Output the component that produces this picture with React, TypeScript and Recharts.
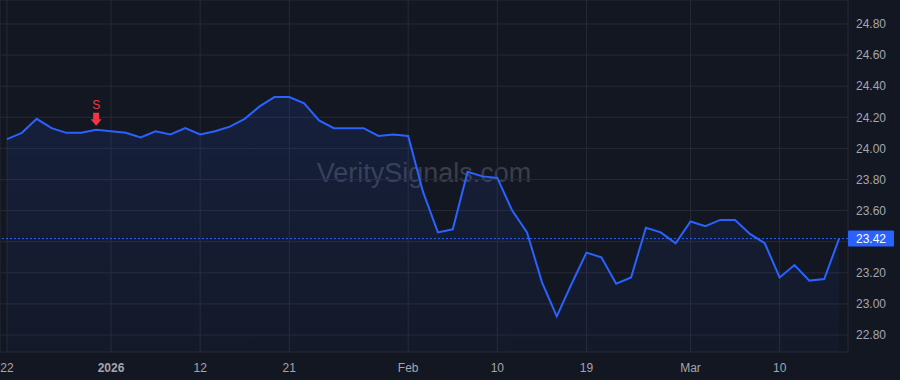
import React from 'react';
import { ComposedChart, Area, XAxis, YAxis, CartesianGrid, ReferenceLine, ReferenceDot } from 'recharts';

const dates = [
  '2025-12-22', '2025-12-23', '2025-12-24', '2025-12-26', '2025-12-29', '2025-12-30', '2025-12-31', '2026-01-02',
  '2026-01-05', '2026-01-06', '2026-01-07', '2026-01-08', '2026-01-09',
  '2026-01-12', '2026-01-13', '2026-01-14', '2026-01-15', '2026-01-16',
  '2026-01-20', '2026-01-21', '2026-01-22', '2026-01-23',
  '2026-01-26', '2026-01-27', '2026-01-28', '2026-01-29', '2026-01-30',
  '2026-02-02', '2026-02-03', '2026-02-04', '2026-02-05', '2026-02-06',
  '2026-02-09', '2026-02-10', '2026-02-11', '2026-02-12', '2026-02-13',
  '2026-02-17', '2026-02-18', '2026-02-19', '2026-02-20',
  '2026-02-23', '2026-02-24', '2026-02-25', '2026-02-26', '2026-02-27',
  '2026-03-02', '2026-03-03', '2026-03-04', '2026-03-05', '2026-03-06',
  '2026-03-09', '2026-03-10', '2026-03-11', '2026-03-12', '2026-03-13',
  '2026-03-16',
];

const prices = [
  24.06, 24.10, 24.19, 24.13, 24.10, 24.10, 24.12, 24.11,
  24.10, 24.07, 24.11, 24.09, 24.13,
  24.09, 24.11, 24.14, 24.19, 24.27,
  24.33, 24.33, 24.29, 24.18,
  24.13, 24.13, 24.13, 24.08, 24.09,
  24.08, 23.72, 23.46, 23.48, 23.85,
  23.82, 23.81, 23.60, 23.46, 23.14,
  22.92, 23.13, 23.33, 23.30,
  23.13, 23.17, 23.49, 23.46, 23.39,
  23.53, 23.50, 23.54, 23.54, 23.45,
  23.39, 23.17, 23.25, 23.15, 23.16,
  23.42,
];

const xTickIndices = [0, 7, 13, 19, 27, 33, 39, 46, 52];
const xTickLabels = ['22', '2026', '12', '21', 'Feb', '10', '19', 'Mar', '10'];
const yTicks = [22.8, 23.0, 23.2, 23.4, 23.6, 23.8, 24.0, 24.2, 24.4, 24.6, 24.8];
const yTicksShown = [22.8, 23.0, 23.2, 23.6, 23.8, 24.0, 24.2, 24.4, 24.6, 24.8];
const lastPrice = 23.42;
const signalIndex = 6;
const signalLabel = 'S';
const watermark = 'VeritySignals.com';

const yDomain: [number, number] = [22.691, 24.954];
const xDomain: [number, number] = [-0.47, 56.6];

const data = prices.map((p, i) => ({ i, date: dates[i], price: p }));

const FONT = '"Liberation Sans", Arial, Helvetica, sans-serif';
const LINE = '#2962ff';
const TEXT = '#a3a6af';

const XTick = (props: any) => {
  const { x, y, payload } = props;
  const idx = xTickIndices.indexOf(payload.value);
  const label = idx >= 0 ? xTickLabels[idx] : '';
  return (
    <text x={x} y={y} dy="0.71em" textAnchor="middle" fill={TEXT} fontSize={12} fontFamily={FONT}
      fontWeight={label === '2026' ? 'bold' : 'normal'}>
      {label}
    </text>
  );
};

const YTick = (props: any) => {
  const { x, y, payload } = props;
  if (!yTicksShown.some((t) => Math.abs(t - payload.value) < 1e-6)) return <g />;
  return (
    <text x={x} y={y} dy="0.355em" textAnchor="start" fill={TEXT} fontSize={12} fontFamily={FONT}>
      {payload.value.toFixed(2)}
    </text>
  );
};

const PriceLabel = (props: any) => {
  const vb = props.viewBox || {};
  const x = (vb.x || 0) + (vb.width || 0);
  const y = vb.y || 0;
  return (
    <g>
      <rect x={x} y={y - 8} width={46} height={16} rx={1} fill={LINE} />
      <text x={x + 23} y={y} dy="0.355em" textAnchor="middle" fill="#ffffff" fontSize={12} fontFamily={FONT}>
        {lastPrice.toFixed(2)}
      </text>
    </g>
  );
};

const SignalShape = (props: any) => {
  const { cx, cy } = props;
  const tip = cy - 4;
  return (
    <g>
      <text x={cx} y={tip - 17} textAnchor="middle" fill="#f23645" fontSize={12} fontFamily={FONT}>
        {signalLabel}
      </text>
      <rect x={cx - 3} y={tip - 13} width={6} height={7} fill="#f23645" />
      <polygon points={`${cx - 5.5},${tip - 6.5} ${cx + 5.5},${tip - 6.5} ${cx},${tip}`} fill="#f23645" />
    </g>
  );
};

export default function App() {
  return (
    <div style={{ position: 'absolute', left: 0, top: 0, width: 900, height: 380, background: '#131722', overflow: 'hidden' }}>
      <div style={{ position: 'absolute', left: 0, top: 158, width: 848, textAlign: 'center', fontFamily: FONT, fontSize: 27, color: '#3a3e4a', lineHeight: '30px', whiteSpace: 'nowrap' }}>
        {watermark}
      </div>
      <div style={{ position: 'absolute', left: 0, top: 0 }}>
        <ComposedChart width={900} height={380} data={data} margin={{ top: 0, right: 0, bottom: 0, left: 0 }}>
          <defs>
            <linearGradient id="areaFill" x1="0" y1="0" x2="0" y2="1">
              <stop offset="0%" stopColor={LINE} stopOpacity={0.2} />
              <stop offset="100%" stopColor={LINE} stopOpacity={0.05} />
            </linearGradient>
          </defs>
          <CartesianGrid stroke="#262a36" strokeWidth={1} />
          <XAxis dataKey="i" type="number" domain={xDomain} ticks={xTickIndices} allowDataOverflow
            height={28} axisLine={false} tickLine={false} tickMargin={5} tick={<XTick />} interval={0} />
          <YAxis orientation="right" type="number" domain={yDomain} ticks={yTicks} allowDataOverflow
            width={52} axisLine={false} tickLine={false} tick={<YTick />} interval={0} />
          <Area type="linear" dataKey="price" stroke={LINE} strokeWidth={2} fill="url(#areaFill)"
            baseValue={yDomain[0]} isAnimationActive={false} dot={false} activeDot={false} />
          <ReferenceLine y={lastPrice} stroke={LINE} strokeDasharray="2 2" strokeWidth={1} label={<PriceLabel />} />
          <ReferenceDot x={signalIndex} y={prices[signalIndex]} r={0} shape={<SignalShape />} />
        </ComposedChart>
      </div>
    </div>
  );
}
